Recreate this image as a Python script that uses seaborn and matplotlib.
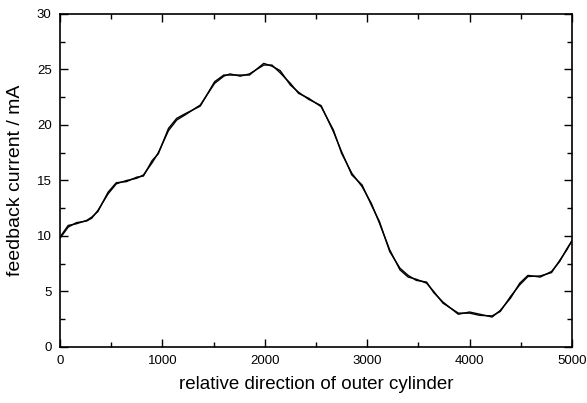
import matplotlib
matplotlib.use("Agg")
import matplotlib.pyplot as plt
from matplotlib.ticker import MultipleLocator
import pandas as pd
import seaborn as sns

# rotation angle of the outer cylinder (arbitrary units)
direction = [0, 80, 160, 260, 310, 370, 470, 550, 650, 750, 815, 900, 960,
             1060, 1140, 1220, 1370, 1510, 1600, 1660, 1760, 1850, 1990, 2070,
             2150, 2250, 2330, 2430, 2550, 2670, 2750, 2850, 2950, 3040, 3120,
             3220, 3320, 3400, 3480, 3580, 3650, 3740, 3890, 4000, 4100, 4220,
             4300, 4400, 4490, 4570, 4690, 4800, 4880, 4950, 5000]

# feedback current, forward sweep (mA)
current_fwd = [9.8, 10.8, 11.2, 11.35, 11.6, 12.3, 13.8, 14.7, 15.0, 15.2,
               15.5, 16.6, 17.5, 19.5, 20.45, 20.9, 21.8, 23.75, 24.4, 24.6,
               24.4, 24.6, 25.4, 25.4, 24.7, 23.75, 22.85, 22.4, 21.65, 19.55,
               17.45, 15.65, 14.45, 12.95, 11.15, 8.75, 6.95, 6.3, 6.1, 5.75,
               5.0, 3.95, 3.05, 3.05, 2.85, 2.8, 3.2, 4.55, 5.6, 6.35, 6.4,
               6.7, 7.8, 8.75, 9.6]

# feedback current, return sweep (mA)
current_rev = [9.9, 10.95, 11.1, 11.4, 11.7, 12.2, 13.95, 14.8, 14.9, 15.3,
               15.4, 16.8, 17.4, 19.7, 20.6, 21.0, 21.7, 23.9, 24.5, 24.5,
               24.5, 24.5, 25.55, 25.3, 24.9, 23.6, 22.95, 22.3, 21.75, 19.4,
               17.6, 15.5, 14.6, 12.8, 11.3, 8.6, 7.1, 6.45, 6.0, 5.85,
               4.9, 4.05, 2.95, 3.15, 2.95, 2.7, 3.3, 4.4, 5.75, 6.45, 6.3,
               6.8, 7.7, 8.85, 9.55]

df = pd.concat([
    pd.DataFrame({"direction": direction, "current": current_fwd, "sweep": "forward"}),
    pd.DataFrame({"direction": direction, "current": current_rev, "sweep": "return"}),
])

sns.set_theme(style="ticks")
plt.rcParams["font.family"] = ["Liberation Sans", "DejaVu Sans"]

fig = plt.figure(figsize=(5.87, 4.03), dpi=100)
ax = fig.add_axes([0.1022, 0.139, 0.8722, 0.8263])

sns.lineplot(data=df, x="direction", y="current", hue="sweep",
             palette=["black", "black"], linewidth=1.0, legend=False,
             sort=False, estimator=None, ax=ax)

ax.set_xlim(0, 5000)
ax.set_ylim(0, 30)
ax.xaxis.set_major_locator(MultipleLocator(1000))
ax.xaxis.set_minor_locator(MultipleLocator(500))
ax.yaxis.set_major_locator(MultipleLocator(5))
ax.yaxis.set_minor_locator(MultipleLocator(2.5))
ax.tick_params(which="both", direction="in", top=True, right=True,
               color="black", width=1.0, labelsize=9.5, labelcolor="black")
ax.tick_params(which="major", length=6, pad=6)
ax.tick_params(which="minor", length=3.5)
for s in ax.spines.values():
    s.set_visible(True)
    s.set_linewidth(1.2)
    s.set_color("black")

ax.set_xlabel("relative direction of outer cylinder", fontsize=13.5,
              color="black", labelpad=6)
ax.set_ylabel("feedback current / mA", fontsize=14, color="black",
              labelpad=9)

fig.savefig("out.png", dpi=100, facecolor="white")
